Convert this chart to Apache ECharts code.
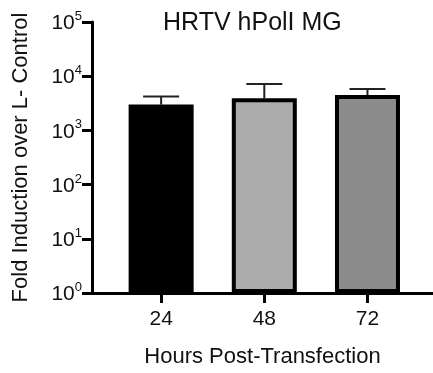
<!DOCTYPE html>
<html>
<head>
<meta charset="utf-8">
<script src="https://cdn.jsdelivr.net/npm/echarts@6/dist/echarts.min.js"></script>
<style>html,body{margin:0;padding:0;background:#fff;}#c{width:433px;height:373px;}</style>
</head>
<body>
<div id="c"></div>
<script>
var categories = ['24', '48', '72'];
var means = [3000, 3900, 4500];
var sdUpper = [1230, 3280, 1325];
var yTicks = [1, 10, 100, 1000, 10000, 100000];
var barColors = ['#000000', '#acacac', '#8c8c8c'];

var FONT = '"Liberation Sans", Arial, Helvetica, sans-serif';
var chart = echarts.init(document.getElementById('c'));

var barData = categories.map(function (c, i) {
  return { value: [i + 1, means[i]], itemStyle: { color: barColors[i] } };
});
var errData = categories.map(function (c, i) {
  return [i + 1, means[i], means[i] + sdUpper[i]];
});

chart.setOption({
  animation: false,
  backgroundColor: '#ffffff',
  title: {
    text: 'HRTV hPolI MG',
    left: 163, top: 11, padding: 0,
    textStyle: { fontFamily: FONT, fontSize: 25, fontWeight: 'normal', color: '#111' }
  },
  grid: { left: 92, right: 0, top: 22, bottom: 75 },
  xAxis: {
    type: 'value',
    min: 0.33, max: 3.635,
    name: 'Hours Post-Transfection',
    nameLocation: 'middle',
    nameGap: 53,
    nameTextStyle: { fontFamily: FONT, fontSize: 22, color: '#111' },
    splitLine: { show: false },
    axisLine: { show: true, lineStyle: { color: '#000', width: 3 } },
    axisTick: { show: true, customValues: [1, 2, 3], length: 10, lineStyle: { color: '#000', width: 3 } },
    axisLabel: {
      customValues: [1, 2, 3],
      margin: 16,
      fontFamily: FONT, fontSize: 21, color: '#111',
      formatter: function (v) { return categories[Math.round(v) - 1]; }
    }
  },
  yAxis: {
    type: 'log',
    logBase: 10,
    min: 1, max: 100000,
    name: 'Fold Induction over L- Control',
    nameLocation: 'middle',
    nameGap: 60,
    nameTextStyle: { fontFamily: FONT, fontSize: 22, color: '#111' },
    splitLine: { show: false },
    axisLine: { show: true, lineStyle: { color: '#000', width: 3 } },
    axisTick: { show: true, length: 10, lineStyle: { color: '#000', width: 3 } },
    axisLabel: {
      margin: 10,
      formatter: function (v) {
        var e = Math.round(Math.log10(v));
        return '{b|10}{s|' + e + '}';
      },
      rich: {
        b: { fontFamily: FONT, fontSize: 21, color: '#111', lineHeight: 24, verticalAlign: 'bottom' },
        s: { fontFamily: FONT, fontSize: 13, color: '#111', lineHeight: 24, verticalAlign: 'top' }
      }
    }
  },
  series: [
    {
      type: 'custom',
      z: 1,
      renderItem: function (params, api) {
        var x = api.value(0);
        var p0 = api.coord([x, api.value(1)]);
        var p1 = api.coord([x, api.value(2)]);
        var hw = 18;
        return {
          type: 'group',
          children: [
            { type: 'line', shape: { x1: p0[0], y1: p0[1], x2: p1[0], y2: p1[1] }, style: { stroke: '#222', lineWidth: 2 } },
            { type: 'line', shape: { x1: p1[0] - hw, y1: p1[1], x2: p1[0] + hw, y2: p1[1] }, style: { stroke: '#222', lineWidth: 2 } }
          ]
        };
      },
      encode: { x: 0, y: [1, 2] },
      data: errData
    },
    {
      type: 'bar',
      z: 2,
      barWidth: 65,
      itemStyle: { borderColor: '#000', borderWidth: 4 },
      data: barData
    }
  ]
});
</script>
</body>
</html>
